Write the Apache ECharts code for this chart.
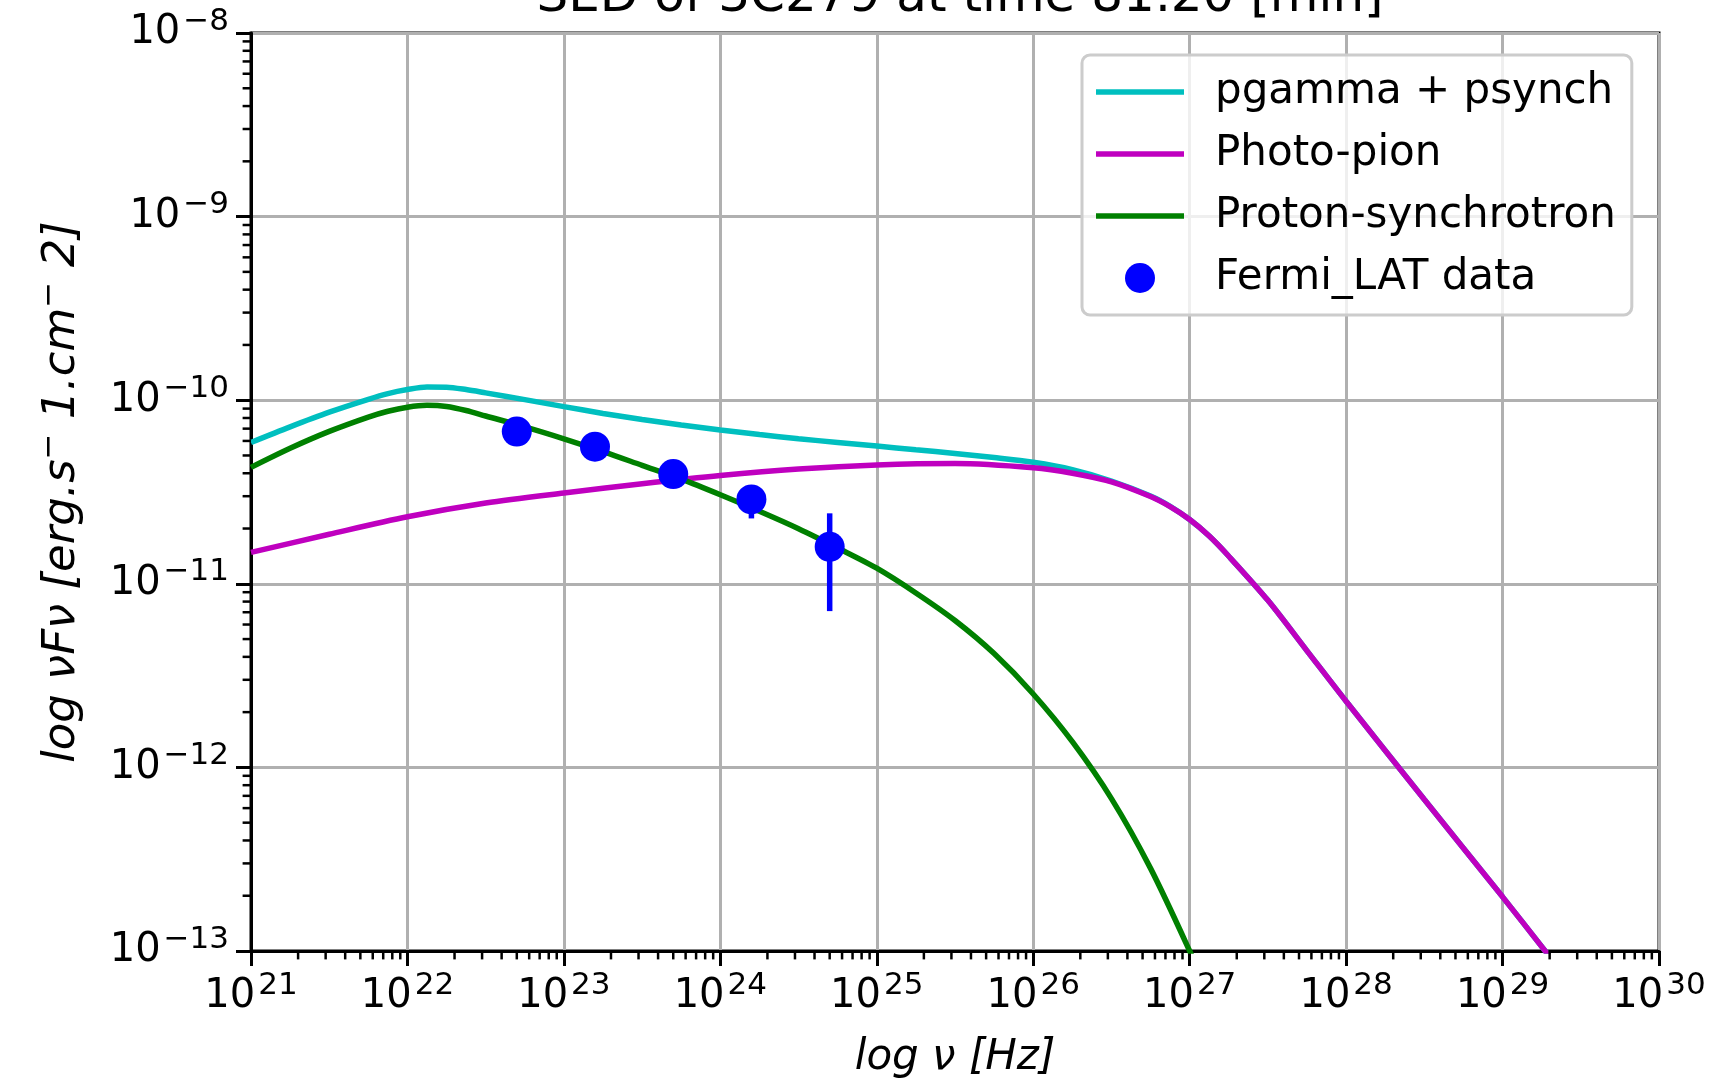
<!DOCTYPE html>
<html>
<head>
<meta charset="utf-8">
<title>SED of 3C279</title>
<script src="https://cdn.jsdelivr.net/npm/echarts@6/dist/echarts.min.js"></script>
<style>
html, body { margin: 0; padding: 0; background: #fff; }
#chart { width: 1722px; height: 1086px; }
</style>
</head>
<body>
<div id="chart"></div>
<script>
var FONT = 'DejaVu Sans';

// curves as log10(nu) and log10(nuFnu)
var cyanLogNu   = [21.0, 21.25, 21.5, 21.75, 21.875, 22.0, 22.125, 22.25, 22.375, 22.5, 22.75, 23.0, 23.25, 23.5, 23.75, 24.0, 24.25, 24.5, 24.75, 25.0, 25.25, 25.5, 25.75, 26.0, 26.25, 26.5, 26.75, 26.875, 27.0, 27.125, 27.25, 27.5, 27.75, 28.0, 28.5, 29.0, 29.3];
var cyanLogFlux = [-10.23, -10.145, -10.065, -9.995, -9.964, -9.942, -9.928, -9.929, -9.942, -9.96, -9.997, -10.035, -10.072, -10.105, -10.135, -10.162, -10.187, -10.21, -10.23, -10.25, -10.27, -10.29, -10.312, -10.338, -10.378, -10.44, -10.522, -10.578, -10.65, -10.74, -10.85, -11.09, -11.365, -11.64, -12.175, -12.705, -13.03];

var pionLogNu   = [21.0, 21.5, 22.0, 22.5, 23.0, 23.5, 24.0, 24.5, 25.0, 25.5, 26.0, 26.25, 26.5, 26.75, 26.875, 27.0, 27.125, 27.25, 27.5, 27.75, 28.0, 28.5, 29.0, 29.3];
var pionLogFlux = [-10.829, -10.73, -10.635, -10.56, -10.505, -10.455, -10.41, -10.375, -10.353, -10.345, -10.368, -10.398, -10.445, -10.525, -10.58, -10.65, -10.74, -10.85, -11.09, -11.365, -11.64, -12.175, -12.705, -13.03];

var psynLogNu   = [21.0, 21.25, 21.5, 21.75, 21.875, 22.0, 22.125, 22.25, 22.375, 22.5, 22.75, 23.0, 23.25, 23.5, 23.75, 24.0, 24.25, 24.5, 24.75, 25.0, 25.25, 25.5, 25.75, 26.0, 26.25, 26.5, 26.75, 27.0, 27.1];
var psynLogFlux = [-10.366, -10.262, -10.17, -10.092, -10.06, -10.038, -10.028, -10.034, -10.056, -10.086, -10.145, -10.21, -10.28, -10.355, -10.43, -10.515, -10.605, -10.70, -10.805, -10.915, -11.05, -11.2, -11.38, -11.6, -11.86, -12.17, -12.55, -13.0, -13.2];

// Fermi-LAT points with error bars
var latNu   = [5.0e22, 1.58e23, 5.0e23, 1.58e24, 5.0e24];
var latFlux = [6.75e-11, 5.58e-11, 3.96e-11, 2.88e-11, 1.59e-11];
var latLow  = [6.5e-11, 5.4e-11, 3.8e-11, 2.27e-11, 7.1e-12];
var latHigh = [7.0e-11, 5.8e-11, 4.1e-11, 3.45e-11, 2.42e-11];

var xMin = 1e21, xMax = 1e30;
var yMin = 1e-13, yMax = 1e-8;
var minorK = [2, 3, 4, 5, 6, 7, 8, 9];

function toPoints(lx, ly) {
  var out = [];
  for (var i = 0; i < lx.length; i++) out.push([Math.pow(10, lx[i]), Math.pow(10, ly[i])]);
  return out;
}

var xMinor = [], yMinor = [];
for (var d = 21; d < 30; d++) {
  minorK.forEach(function (k) { xMinor.push([k * Math.pow(10, d), yMin]); });
}
for (var e = -13; e < -8; e++) {
  minorK.forEach(function (k) { yMinor.push([xMin, k * Math.pow(10, e)]); });
}

var latErr = [];
var latPts = [];
for (var i = 0; i < latNu.length; i++) {
  latErr.push([latNu[i], latLow[i], latHigh[i]]);
  latPts.push([latNu[i], latFlux[i]]);
}

function expOf(v) { return Math.round(Math.log(v) / Math.LN10); }

var tickRich = {
  b: { fontFamily: FONT, fontSize: 40, color: '#000', lineHeight: 54 },
  s: { fontFamily: FONT, fontSize: 31, color: '#000', lineHeight: 31, verticalAlign: 'top', padding: [0, 0, 0, 3] }
};
var lineIcon = 'path://M0,0H88V5.5H0Z';

var chart = echarts.init(document.getElementById('chart'));

var option = {
  backgroundColor: '#fff',
  animation: false,
  title: {
    text: 'SED of 3C279 at time 81.20 [min]',
    left: 955,
    textAlign: 'center',
    top: -32,
    textStyle: { fontFamily: FONT, fontSize: 50, fontWeight: 'normal', color: '#000' }
  },
  grid: {
    left: 251, right: 63, top: 33, bottom: 135,
    show: true, borderColor: '#000', borderWidth: 3, backgroundColor: 'transparent'
  },
  legend: {
    orient: 'vertical',
    left: 1082, top: 55,
    padding: [16, 16, 16, 14],
    itemWidth: 88, itemHeight: 30, itemGap: 20,
    backgroundColor: 'rgba(255,255,255,0.8)',
    borderColor: '#cccccc', borderWidth: 3, borderRadius: 8,
    selectedMode: false,
    formatter: function (name) { return '{g|}{t|' + name + '}'; },
    textStyle: {
      rich: {
        g: { width: 26 },
        t: { fontFamily: FONT, fontSize: 42, color: '#000', lineHeight: 42 }
      }
    },
    data: [
      { name: 'pgamma + psynch', icon: lineIcon },
      { name: 'Photo-pion', icon: lineIcon },
      { name: 'Proton-synchrotron', icon: lineIcon },
      { name: 'Fermi_LAT data', icon: 'circle' }
    ]
  },
  xAxis: {
    type: 'log', logBase: 10, min: xMin, max: xMax, interval: 1,
    name: 'log ν [Hz]', nameLocation: 'middle', nameGap: 86,
    nameTextStyle: { fontFamily: FONT, fontSize: 42, fontStyle: 'italic', color: '#000' },
    axisLine: { lineStyle: { color: '#000', width: 3 } },
    axisTick: { length: 15, lineStyle: { color: '#000', width: 3 } },
    axisLabel: {
      margin: 19,
      formatter: function (v) { return '{b|10}{s|' + expOf(v) + '}'; },
      rich: tickRich
    },
    splitLine: { show: true, lineStyle: { color: '#b0b0b0', width: 3 } },
    minorTick: { show: false }
  },
  yAxis: {
    type: 'log', logBase: 10, min: yMin, max: yMax, interval: 1,
    name: '{i|log νFν [erg.s}{u|−}{i| 1.cm}{u|−}{i| 2]}',
    nameLocation: 'middle', nameGap: 161, nameRotate: 90,
    nameTextStyle: {
      rich: {
        i: { fontFamily: FONT, fontSize: 45, fontStyle: 'italic', color: '#000', lineHeight: 56 },
        u: { fontFamily: FONT, fontSize: 31, fontStyle: 'italic', color: '#000', lineHeight: 31, verticalAlign: 'top' }
      }
    },
    axisLine: { lineStyle: { color: '#000', width: 3 } },
    axisTick: { length: 15, lineStyle: { color: '#000', width: 3 } },
    axisLabel: {
      margin: 22,
      formatter: function (v) { return '{b|10}{s|−' + Math.abs(expOf(v)) + '}'; },
      rich: tickRich
    },
    splitLine: { show: true, lineStyle: { color: '#b0b0b0', width: 3 } }
  },
  series: [
    {
      name: 'pgamma + psynch', type: 'line', data: toPoints(cyanLogNu, cyanLogFlux),
      smooth: 0.3, symbol: 'none', color: '#00bfbf', lineStyle: { width: 5.5, color: '#00bfbf' }, z: 2
    },
    {
      name: 'Photo-pion', type: 'line', data: toPoints(pionLogNu, pionLogFlux),
      smooth: 0.3, symbol: 'none', color: '#bf00bf', lineStyle: { width: 5.5, color: '#bf00bf' }, z: 2
    },
    {
      name: 'Proton-synchrotron', type: 'line', data: toPoints(psynLogNu, psynLogFlux),
      smooth: 0.3, symbol: 'none', color: '#008000', lineStyle: { width: 5.5, color: '#008000' }, z: 2
    },
    {
      name: 'Fermi_LAT errors', type: 'custom', data: latErr, z: 3, silent: true,
      encode: { x: 0, y: [1, 2] },
      renderItem: function (params, api) {
        var p1 = api.coord([api.value(0), api.value(1)]);
        var p2 = api.coord([api.value(0), api.value(2)]);
        return { type: 'line', shape: { x1: p1[0], y1: p1[1], x2: p2[0], y2: p2[1] }, style: { stroke: '#0000ff', lineWidth: 5.5 } };
      }
    },
    {
      name: 'Fermi_LAT data', type: 'scatter', data: latPts, symbol: 'circle', symbolSize: 30,
      color: '#0000ff', itemStyle: { color: '#0000ff', opacity: 1 }, z: 4
    },
    {
      name: 'x minor ticks', type: 'custom', data: xMinor, clip: false, silent: true, z: 5,
      renderItem: function (params, api) {
        var p = api.coord([api.value(0), api.value(1)]);
        return { type: 'line', shape: { x1: p[0], y1: p[1], x2: p[0], y2: p[1] + 8.4 }, style: { stroke: '#000', lineWidth: 2.5 } };
      }
    },
    {
      name: 'y minor ticks', type: 'custom', data: yMinor, clip: false, silent: true, z: 5,
      renderItem: function (params, api) {
        var p = api.coord([api.value(0), api.value(1)]);
        return { type: 'line', shape: { x1: p[0], y1: p[1], x2: p[0] - 8.4, y2: p[1] }, style: { stroke: '#000', lineWidth: 2.5 } };
      }
    }
  ]
};

chart.setOption(option);
</script>
</body>
</html>
